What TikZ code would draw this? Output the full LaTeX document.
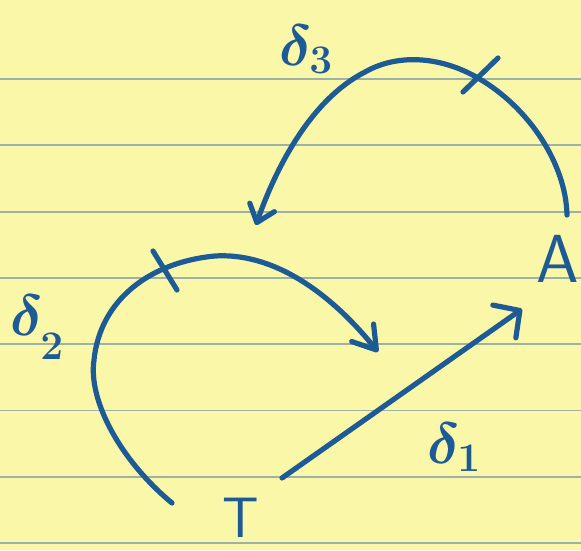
\documentclass[tikz,border=0pt]{standalone}
\usepackage{fix-cm}
\usetikzlibrary{arrows.meta}

\definecolor{carta}{HTML}{FAF7A8}
\definecolor{riga}{HTML}{9DB2A6}
\definecolor{inchiostro}{HTML}{1D5B96}

% delta con pedice abbassato
\newcommand\dlab[2][0pt]{$\delta_{\lower#1\hbox{$\scriptstyle #2$}}$}

\begin{document}
\begin{tikzpicture}[x=1pt, y=-1pt, line cap=round, line join=round,
  penna/.style={draw=inchiostro, line width=5.2pt},
  barb/.style={-{Straight Barb[round, #1]}},
  lettera/.style={text=inchiostro, inner sep=0pt, font=\sffamily\fontsize{#1}{#1}\selectfont},
  etichetta/.style={text=inchiostro, inner sep=0pt, anchor=base west, font=\boldmath\fontsize{58}{58}\selectfont}]

% foglio
\useasboundingbox (0,0) rectangle (581,550);
\fill[carta] (0,0) rectangle (581,550);

% righe del foglio
\foreach \k in {0,...,7}
  \draw[riga, line width=1.8pt] (0,{79+66.3*\k}) -- (581,{79+66.3*\k});

% punti T e A
\node[lettera=57] (T) at (241,518) {T};
\node[lettera=68] (A) at (558,259) {A};

% estremi delle frecce
\coordinate (d1s) at (282,478);
\coordinate (d1e) at (522,309);
\coordinate (d2s) at (172,503);
\coordinate (d2e) at (378,352);
\coordinate (d3s) at (567,215);
\coordinate (d3e) at (256,225);

% delta 1: da T ad A
\draw[penna, barb={length=19pt, width=40pt}] (d1s) -- (d1e);

% delta 2: arco a sinistra
\draw[penna, barb={length=22pt, width=28pt}] (d2s)
  .. controls (120,460) and (88,400) .. (94,360)
  .. controls (100,300) and (150,262) .. (215,256)
  .. controls (280,252) and (338,302) .. (d2e);
\draw[penna] (153,251) -- (177,290);

% delta 3: arco in alto
\draw[penna, barb={length=16pt, width=26pt}] (d3s)
  .. controls (566,165) and (530,108) .. (478,78)
  .. controls (444,58) and (400,52) .. (365,72)
  .. controls (310,100) and (275,170) .. (d3e);
\draw[penna] (463,92) -- (498,58);

% etichette
\node[etichetta] (l1) at (427,463) {\dlab{1}};
\node[etichetta] (l2) at (10,335) {\dlab[16pt]{2}};
\node[etichetta] (l3) at (279,65) {\dlab{3}};

\end{tikzpicture}
\end{document}
